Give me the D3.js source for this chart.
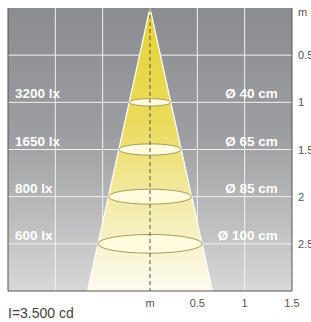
<!DOCTYPE html>
<html>
<head>
<meta charset="utf-8">
<script src="https://cdn.jsdelivr.net/npm/d3@7"></script>
<style>
  body { margin: 0; background: #fff; }
  text { font-family: "Liberation Sans", "DejaVu Sans", sans-serif; }
</style>
</head>
<body>
<div id="chart"></div>
<script>
var svgWidth = 311;
var svgHeight = 322;

var margin = { top: 8, right: 19, bottom: 31, left: 8 };
var width = svgWidth - margin.left - margin.right;
var height = svgHeight - margin.top - margin.bottom;

// data
var depths = [1, 1.5, 2, 2.5];
var luxLabels = ["3200 lx", "1650 lx", "800 lx", "600 lx"];
var diamLabels = ["Ø 40 cm", "Ø 65 cm", "Ø 85 cm", "Ø 100 cm"];
var yTicks = [0.5, 1, 1.5, 2, 2.5];
var xTicks = [0.5, 1, 1.5];
var coneHalfWidth = 0.66; // half width of beam at 3 m
var intensity = "I=3.500 cd";

var svg = d3.select("#chart")
  .append("svg")
  .attr("width", svgWidth)
  .attr("height", svgHeight);

var defs = svg.append("defs");

var bg = defs.append("linearGradient")
  .attr("id", "bg").attr("x1", 0).attr("y1", 0).attr("x2", 0).attr("y2", 1);
bg.append("stop").attr("offset", "0%").attr("stop-color", "#8b8c90");
bg.append("stop").attr("offset", "45%").attr("stop-color", "#9d9ea1");
bg.append("stop").attr("offset", "100%").attr("stop-color", "#d8d8d8");

var cone = defs.append("linearGradient")
  .attr("id", "cone").attr("x1", 0).attr("y1", 0).attr("x2", 0).attr("y2", 1);
cone.append("stop").attr("offset", "0%").attr("stop-color", "#e6d232");
cone.append("stop").attr("offset", "40%").attr("stop-color", "#eadb5c");
cone.append("stop").attr("offset", "75%").attr("stop-color", "#f5eeb8");
cone.append("stop").attr("offset", "100%").attr("stop-color", "#fdfbf0");

var chartGroup = svg.append("g")
  .attr("transform", `translate(${margin.left}, ${margin.top})`);

var xScale = d3.scaleLinear().domain([-1.5, 1.5]).range([0, width]);
var yScale = d3.scaleLinear().domain([0, 3]).range([0, height]);

chartGroup.append("rect")
  .attr("width", width)
  .attr("height", height)
  .attr("fill", "url(#bg)");

// grid
chartGroup.selectAll(".hgrid")
  .data(yTicks)
  .enter()
  .append("line")
  .attr("x1", 0).attr("x2", width)
  .attr("y1", d => yScale(d)).attr("y2", d => yScale(d))
  .attr("stroke", "#f2f2f2").attr("stroke-width", 1);

chartGroup.selectAll(".vgrid")
  .data([-1, -0.5, 0.5, 1])
  .enter()
  .append("line")
  .attr("y1", 0).attr("y2", height)
  .attr("x1", d => xScale(d)).attr("x2", d => xScale(d))
  .attr("stroke", "#f2f2f2").attr("stroke-width", 1);

// light cone
var half = d => coneHalfWidth * d / 3;
var conePts = [[0, 0], [half(3), 3], [-half(3), 3]];
chartGroup.append("path")
  .attr("d", d3.line().x(p => xScale(p[0])).y(p => yScale(p[1]))(conePts) + "Z")
  .attr("fill", "url(#cone)")
  .attr("stroke", "none");

chartGroup.selectAll(".edge")
  .data([1, -1])
  .enter()
  .append("line")
  .attr("x1", xScale(0)).attr("y1", yScale(0))
  .attr("x2", s => xScale(s * half(3))).attr("y2", yScale(3))
  .attr("stroke", "#ffffff").attr("stroke-width", 1.2);

chartGroup.selectAll("ellipse")
  .data(depths)
  .enter()
  .append("ellipse")
  .attr("cx", xScale(0))
  .attr("cy", d => yScale(d))
  .attr("rx", d => xScale(half(d)) - xScale(0))
  .attr("ry", d => (xScale(half(d)) - xScale(0)) * 0.18)
  .attr("fill", "#fffbdc")
  .attr("stroke", "#a89c5c")
  .attr("stroke-width", 1);

chartGroup.append("line")
  .attr("x1", xScale(0)).attr("x2", xScale(0))
  .attr("y1", yScale(0)).attr("y2", yScale(3))
  .attr("stroke", "#555").attr("stroke-width", 1)
  .attr("stroke-dasharray", "4,3");

// frame
chartGroup.append("path")
  .attr("d", `M0,0V${height}H${width}V0`)
  .attr("fill", "none")
  .attr("stroke", "#555")
  .attr("stroke-width", 1);

// labels
chartGroup.selectAll(".lux")
  .data(depths)
  .enter()
  .append("text")
  .attr("x", 7)
  .attr("y", d => yScale(d) - 4)
  .attr("fill", "#fff")
  .attr("font-size", "13.5px")
  .attr("font-weight", "bold")
  .text((d, i) => luxLabels[i]);

chartGroup.selectAll(".diam")
  .data(depths)
  .enter()
  .append("text")
  .attr("x", xScale(1.35))
  .attr("y", d => yScale(d) - 4)
  .attr("text-anchor", "end")
  .attr("fill", "#fff")
  .attr("font-size", "13.5px")
  .attr("font-weight", "bold")
  .text((d, i) => diamLabels[i]);

// right axis
var rightAxis = chartGroup.append("g");
rightAxis.selectAll("text")
  .data(yTicks)
  .enter()
  .append("text")
  .attr("x", width + 6)
  .attr("y", d => yScale(d) + 4)
  .attr("fill", "#555")
  .attr("font-size", "11px")
  .text(d => d);
rightAxis.append("text")
  .attr("x", width + 6)
  .attr("y", 8)
  .attr("fill", "#555")
  .attr("font-size", "11px")
  .text("m");

// bottom axis
var bottomAxis = chartGroup.append("g");
bottomAxis.selectAll("text")
  .data(xTicks)
  .enter()
  .append("text")
  .attr("x", d => xScale(d))
  .attr("y", height + 16)
  .attr("text-anchor", "middle")
  .attr("fill", "#555")
  .attr("font-size", "11px")
  .text(d => d);
bottomAxis.append("text")
  .attr("x", xScale(0))
  .attr("y", height + 16)
  .attr("text-anchor", "middle")
  .attr("fill", "#555")
  .attr("font-size", "11px")
  .text("m");

svg.append("text")
  .attr("x", 8)
  .attr("y", 318)
  .attr("fill", "#444")
  .attr("font-size", "14px")
  .text(intensity);
</script>
</body>
</html>
